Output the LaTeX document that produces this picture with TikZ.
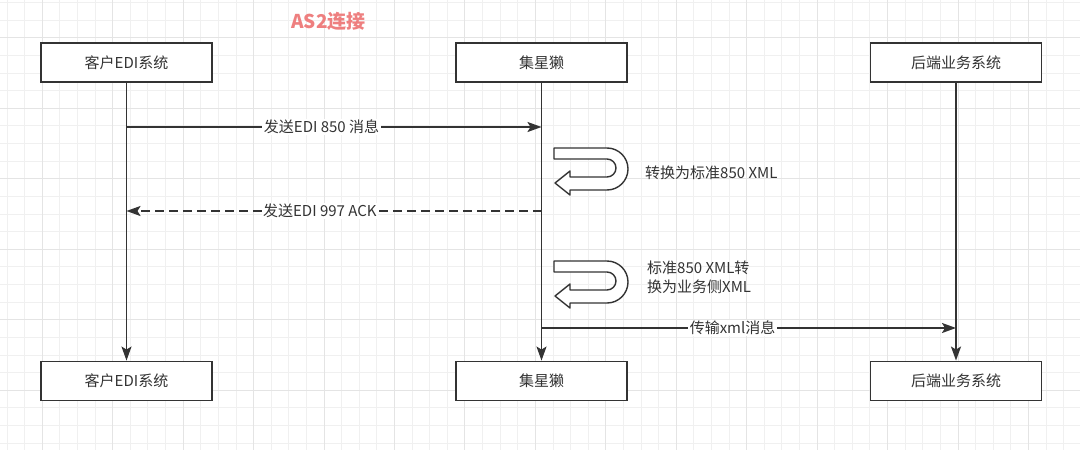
\documentclass[tikz,border=0pt]{standalone}
\usepackage{fontspec}
\setmainfont{Noto Sans CJK SC}
\usetikzlibrary{arrows.meta}
\definecolor{ink}{HTML}{333333}
\definecolor{gridminor}{HTML}{F0F0F0}
\definecolor{gridmajor}{HTML}{E4E4E4}
\definecolor{titlered}{HTML}{EE7F7F}
\tikzset{
  sysbox/.style={draw=ink, line width=1.9pt, fill=white, minimum width=171pt, minimum height=39pt, inner sep=0pt, text=ink, font=\fontsize{15}{18}\selectfont},
  msg/.style={draw=ink, line width=1.7pt, -{Stealth[length=14pt,width=10pt,inset=3pt]}},
  dmsg/.style={msg, dash pattern=on 9pt off 5pt},
  lbl/.style={fill=white, inner sep=1.5pt, text=ink, font=\fontsize{15}{18}\selectfont},
  note/.style={inner sep=0pt, text=ink, font=\fontsize{15}{19}\selectfont, align=left},
  uturn/.pic={\draw[ink, line width=1.4pt, fill=white, line join=round]
    (0,0) -- (53,0) .. controls (64.6,0) and (74,9.4) .. (74,21)
    .. controls (74,32.6) and (64.6,42) .. (53,42) -- (16,42) -- (16,47) -- (1,35)
    -- (16,23) -- (16,29) -- (53,29) .. controls (58,29) and (62,25) .. (62,20)
    .. controls (62,15) and (58,11) .. (53,11) -- (0,11) -- cycle;}
}
\begin{document}
\begin{tikzpicture}[x=1pt,y=-1pt]
\useasboundingbox (0,0) rectangle (1080,450);
\fill[white] (0,0) rectangle (1080,450);
% grid
\foreach \i in {0,...,61} \draw[gridminor, line width=0.8pt] (7+\i*17.61,0) -- (7+\i*17.61,450);
\foreach \j in {0,...,25} \draw[gridminor, line width=0.8pt] (0,2.5+\j*17.62) -- (1080,2.5+\j*17.62);
\foreach \i in {2,6,...,58} \draw[gridmajor, line width=0.8pt] (7+\i*17.61,0) -- (7+\i*17.61,450);
\foreach \j in {2,6,...,22} \draw[gridmajor, line width=0.8pt] (0,2.5+\j*17.62) -- (1080,2.5+\j*17.62);

% title
\node[font=\fontsize{19}{22}\selectfont\bfseries, text=titlered, inner sep=0pt] (title) at (328.5,21.5) {AS2连接};

% participants
\node[sysbox] (c1) at (126.5,62.5) {客户EDI系统};
\node[sysbox] (j1) at (541.5,62.5) {集星獭};
\node[sysbox] (b1) at (956,62.5) {后端业务系统};
\node[sysbox] (c2) at (126.5,381) {客户EDI系统};
\node[sysbox] (j2) at (541.5,381) {集星獭};
\node[sysbox] (b2) at (956,381) {后端业务系统};

% lifelines
\draw[msg] (c1) -- (c2);
\draw[msg] (j1) -- (j2);
\draw[msg] (b1) -- (b2);

% messages
\coordinate (m1a) at (126.5,127);
\coordinate (m1b) at (541.5,127);
\coordinate (m2a) at (541.5,211);
\coordinate (m2b) at (126.5,211);
\coordinate (m3a) at (541.5,328);
\coordinate (m3b) at (956,328);
\draw[msg] (m1a) -- node[lbl, pos=0.47] (l1) {发送EDI 850 消息} (m1b);
\draw[dmsg] (m2a) -- node[lbl, pos=0.534] (l2) {发送EDI 997 ACK} (m2b);
\draw[msg] (m3a) -- node[lbl, pos=0.461] (l3) {传输xml消息} (m3b);

% self transformations
\pic at (554,148) {uturn};
\pic at (554,261) {uturn};
\node[note, anchor=west] (t1) at (645,172.5) {转换为标准850 XML};
\node[note, anchor=west] (t2) at (647,277.5) {标准850 XML转\\换为业务侧XML};
\end{tikzpicture}
\end{document}
